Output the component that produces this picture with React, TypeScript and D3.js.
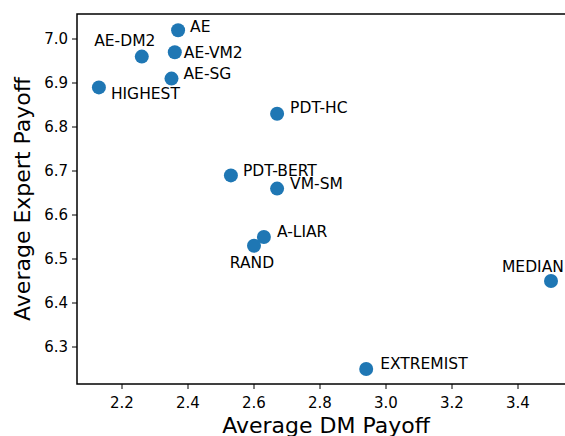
import * as d3 from "d3";

const names = ["AE", "AE-DM2", "AE-VM2", "AE-SG", "HIGHEST", "PDT-HC", "PDT-BERT", "VM-SM", "A-LIAR", "RAND", "MEDIAN", "EXTREMIST"];
const dmPayoff = [2.37, 2.26, 2.36, 2.35, 2.13, 2.67, 2.53, 2.67, 2.63, 2.6, 3.5, 2.94];
const expertPayoff = [7.02, 6.96, 6.97, 6.91, 6.89, 6.83, 6.69, 6.66, 6.55, 6.53, 6.45, 6.25];
const xTicks = [2.2, 2.4, 2.6, 2.8, 3.0, 3.2, 3.4];
const yTicks = [6.3, 6.4, 6.5, 6.6, 6.7, 6.8, 6.9, 7.0];

// label placement: [dx, dy, anchor]
const labelPos: Record<string, [number, number, string]> = {
  AE: [12, -4, "start"],
  "AE-DM2": [-17, -16, "middle"],
  "AE-VM2": [9, 0, "start"],
  "AE-SG": [12, -5, "start"],
  HIGHEST: [12, 6, "start"],
  "PDT-HC": [13, -6, "start"],
  "PDT-BERT": [12, -5, "start"],
  "VM-SM": [13, -5, "start"],
  "A-LIAR": [13, -6, "start"],
  RAND: [-2, 17, "middle"],
  MEDIAN: [-49, -15, "start"],
  EXTREMIST: [14, -6, "start"],
};

const left = 77;
const right = 575;
const top = 14;
const bottom = 384;
const font = "DejaVu Sans, sans-serif";

export default function App() {
  const x = d3.scaleLinear().domain([2.2, 3.4]).range([122, 518]);
  const y = d3.scaleLinear().domain([6.3, 7.0]).range([347, 39]);

  return (
    <svg
      width={565}
      height={436}
      style={{ position: "absolute", left: 0, top: 0, fontFamily: font }}
    >
      <rect width={565} height={436} fill="white" />
      {xTicks.map((t) => (
        <g key={"x" + t}>
          <line x1={x(t)} x2={x(t)} y1={bottom} y2={bottom + 5} stroke="black" strokeWidth={1} />
          <text x={x(t)} y={bottom + 24} textAnchor="middle" fontSize={15}>
            {t.toFixed(1)}
          </text>
        </g>
      ))}
      {yTicks.map((t) => (
        <g key={"y" + t}>
          <line x1={left - 5} x2={left} y1={y(t)} y2={y(t)} stroke="black" strokeWidth={1} />
          <text x={left - 9} y={y(t)} dy="0.36em" textAnchor="end" fontSize={15}>
            {t.toFixed(1)}
          </text>
        </g>
      ))}
      {names.map((n, i) => {
        const [dx, dy, anchor] = labelPos[n];
        return (
          <g key={n}>
            <circle cx={x(dmPayoff[i])} cy={y(expertPayoff[i])} r={7} fill="#1f77b4" />
            <text
              x={x(dmPayoff[i]) + dx}
              y={y(expertPayoff[i]) + dy}
              dy="0.36em"
              textAnchor={anchor}
              fontSize={15.5}
            >
              {n}
            </text>
          </g>
        );
      })}
      <rect
        x={left}
        y={top}
        width={right - left}
        height={bottom - top}
        fill="none"
        stroke="black"
        strokeWidth={1.5}
      />
      <text x={(left + right) / 2} y={433} textAnchor="middle" fontSize={22}>
        Average DM Payoff
      </text>
      <text
        transform={`translate(30,${(top + bottom) / 2}) rotate(-90)`}
        textAnchor="middle"
        fontSize={22}
      >
        Average Expert Payoff
      </text>
    </svg>
  );
}
